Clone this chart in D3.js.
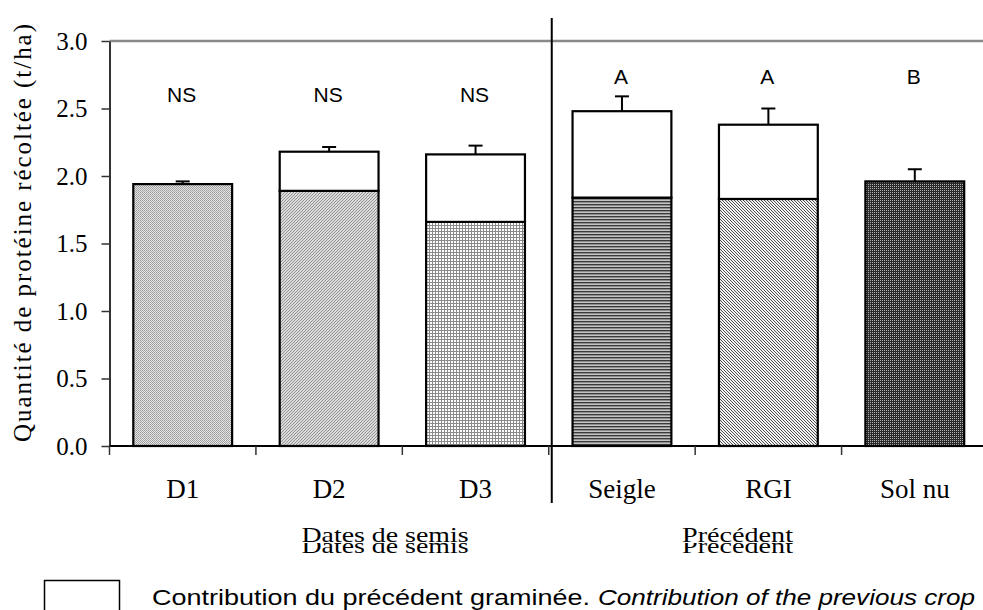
<!DOCTYPE html>
<html lang="fr">
<head>
<meta charset="UTF-8">
<title>Quantité de protéine récoltée</title>
<script src="https://cdn.jsdelivr.net/npm/d3@7"></script>
<style>
  body { margin: 0; background: #fff; }
  svg { display: block; }
</style>
</head>
<body>
<script>

    // data
    var categories = ["D1", "D2", "D3", "Seigle", "RGI", "Sol nu"];
    var baseValues = [1.94, 1.89, 1.66, 1.84, 1.83, 1.96];
    var contribValues = [0, 0.29, 0.50, 0.64, 0.55, 0];
    var errValues = [0.02, 0.035, 0.065, 0.11, 0.12, 0.09];
    var sigLetters = ["NS", "NS", "NS", "A", "A", "B"];
    var groupOf = [0, 0, 0, 1, 1, 1];
    var groupLabels = ["Dates de semis", "Précédent"];
    var yTicks = [0, 0.5, 1.0, 1.5, 2.0, 2.5, 3.0];
    var yTitle = "Quantité de protéine récoltée (t/ha)";
    var legendFr = "Contribution du précédent graminée.";
    var legendEn = "Contribution of the previous crop";

    var width = 983, height = 610;
    var serif = "'Liberation Serif', 'Times New Roman', serif";
    var sans = "'Liberation Sans', Arial, sans-serif";

    var svg = d3.select("body").append("svg")
        .attr("width", width)
        .attr("height", height);

    var x = d3.scaleBand()
        .domain(categories)
        .range([109.5, 988]);

    var y = d3.scaleLinear()
        .domain([0, 3])
        .range([446, 41]);

    var barW = x.bandwidth() * 0.675;
    function barX(c) { return x(c) + (x.bandwidth() - barW) / 2; }

    // fill patterns
    var defs = svg.append("defs");
    function pat(id, w, h) {
        return defs.append("pattern").attr("id", id)
            .attr("patternUnits", "userSpaceOnUse")
            .attr("width", w).attr("height", h);
    }
    var p;
    p = pat("p0", 2, 2);
    p.append("rect").attr("width", 2).attr("height", 2).attr("fill", "#e4e4e4");
    p.append("rect").attr("width", 1).attr("height", 1).attr("fill", "#9c9c9c");
    p.append("rect").attr("x", 1).attr("y", 1).attr("width", 1).attr("height", 1).attr("fill", "#a8a8a8");

    p = pat("p1", 3, 3);
    p.append("rect").attr("width", 3).attr("height", 3).attr("fill", "#dadada");
    p.append("path").attr("d", "M-1,1 L1,-1 M0,3 L3,0 M2,4 L4,2").attr("stroke", "#959595").attr("stroke-width", 1);

    p = pat("p2", 3, 3);
    p.append("rect").attr("width", 3).attr("height", 3).attr("fill", "#fff");
    p.append("rect").attr("width", 3).attr("height", 1).attr("fill", "#8a8a8a");
    p.append("rect").attr("width", 1).attr("height", 3).attr("fill", "#8a8a8a");

    p = pat("p3", 3, 3);
    p.append("rect").attr("width", 3).attr("height", 3).attr("fill", "#c4c4c4");
    p.append("rect").attr("width", 3).attr("height", 1.4).attr("fill", "#3a3a3a");

    p = pat("p4", 3, 3);
    p.append("rect").attr("width", 3).attr("height", 3).attr("fill", "#f4f4f4");
    p.append("path").attr("d", "M-1,2 L1,4 M0,0 L3,3 M2,-1 L4,1").attr("stroke", "#3c3c3c").attr("stroke-width", 0.9);

    p = pat("p5", 2, 2);
    p.append("rect").attr("width", 2).attr("height", 2).attr("fill", "#2a2a2a");
    p.append("rect").attr("width", 1).attr("height", 1).attr("fill", "#b4b4b4");

    // top border line
    svg.append("line")
        .attr("x1", x.range()[0]).attr("x2", width)
        .attr("y1", y(3)).attr("y2", y(3))
        .attr("stroke", "#8a8a8a").attr("stroke-width", 2.5);

    // y axis
    var yAxis = d3.axisLeft(y)
        .tickValues(yTicks)
        .tickFormat(d3.format(".1f"))
        .tickSize(8)
        .tickSizeOuter(0)
        .tickPadding(14);
    var yG = svg.append("g")
        .attr("transform", "translate(" + x.range()[0] + ",0)")
        .call(yAxis);
    yG.select(".domain").attr("stroke", "#333").attr("stroke-width", 2);
    yG.selectAll(".tick line").attr("stroke", "#333").attr("stroke-width", 1.5);
    yG.selectAll(".tick text")
        .attr("font-family", serif)
        .attr("font-size", 25)
        .attr("fill", "#000")
        .attr("dy", "0.32em");

    // y title
    svg.append("text")
        .attr("transform", "translate(31,233) rotate(-90)")
        .attr("text-anchor", "middle")
        .attr("font-family", serif)
        .attr("font-size", 25)
        .attr("textLength", 418)
        .attr("lengthAdjust", "spacing")
        .text(yTitle);

    // bars
    var bars = svg.append("g").selectAll("g")
        .data(categories)
        .join("g");

    bars.append("rect")
        .attr("x", function (d) { return barX(d); })
        .attr("y", function (d, i) { return y(baseValues[i]); })
        .attr("width", barW)
        .attr("height", function (d, i) { return y(0) - y(baseValues[i]); })
        .attr("fill", function (d, i) { return "url(#p" + i + ")"; })
        .attr("stroke", "#000")
        .attr("stroke-width", 2.2);

    bars.filter(function (d, i) { return contribValues[i] > 0; })
        .append("rect")
        .attr("x", function (d) { return barX(d); })
        .attr("y", function (d) { var i = categories.indexOf(d); return y(baseValues[i] + contribValues[i]); })
        .attr("width", barW)
        .attr("height", function (d) { var i = categories.indexOf(d); return y(baseValues[i]) - y(baseValues[i] + contribValues[i]); })
        .attr("fill", "#fff")
        .attr("stroke", "#000")
        .attr("stroke-width", 2.2);

    // error bars
    var err = svg.append("g").attr("stroke", "#000").attr("stroke-width", 2);
    categories.forEach(function (c, i) {
        var top = baseValues[i] + contribValues[i];
        var cx = x(c) + x.bandwidth() / 2;
        err.append("line")
            .attr("x1", cx).attr("x2", cx)
            .attr("y1", y(top)).attr("y2", y(top + errValues[i]));
        err.append("line")
            .attr("x1", cx - 7).attr("x2", cx + 7)
            .attr("y1", y(top + errValues[i])).attr("y2", y(top + errValues[i]));
    });

    // significance letters
    var letterY = [102, 84];
    svg.append("g").selectAll("text")
        .data(categories)
        .join("text")
        .attr("x", function (d) { return x(d) + x.bandwidth() / 2 - 1; })
        .attr("y", function (d, i) { return letterY[groupOf[i]]; })
        .attr("text-anchor", "middle")
        .attr("font-family", sans)
        .attr("font-size", 21)
        .text(function (d, i) { return sigLetters[i]; });

    // x axis
    var xAxis = d3.axisBottom(x).tickSize(0).tickSizeOuter(0);
    var xG = svg.append("g")
        .attr("transform", "translate(0," + y(0) + ")")
        .call(xAxis);
    xG.select(".domain").attr("d", "M" + x.range()[0] + ",0H" + width)
        .attr("stroke", "#000").attr("stroke-width", 2);
    xG.selectAll(".tick text")
        .attr("y", 52)
        .attr("dy", 0)
        .attr("font-family", serif)
        .attr("font-size", 27)
        .attr("fill", "#000");

    // category boundary ticks
    var bounds = categories.map(function (c) { return x(c); }).concat([x.range()[1]]);
    svg.append("g").selectAll("line")
        .data(bounds)
        .join("line")
        .attr("x1", function (d) { return d; }).attr("x2", function (d) { return d; })
        .attr("y1", y(0)).attr("y2", y(0) + 9)
        .attr("stroke", "#333").attr("stroke-width", 1.5);

    // separator between the two groups
    var sepX = x(categories[3]) + 3;
    svg.append("line")
        .attr("x1", sepX).attr("x2", sepX)
        .attr("y1", 18).attr("y2", 503)
        .attr("stroke", "#000").attr("stroke-width", 2);

    // group labels (second copy shown clipped below the first)
    var groupPos = [{cx: 385, len: 167}, {cx: 737.5, len: 111}];
    defs.append("clipPath").attr("id", "lowClip")
        .append("rect").attr("x", 0).attr("y", 543).attr("width", width).attr("height", 20);

    groupLabels.forEach(function (g, i) {
        [541.7, 553.3].forEach(function (by, k) {
            svg.append("text")
                .attr("x", groupPos[i].cx)
                .attr("y", by)
                .attr("text-anchor", "middle")
                .attr("font-family", serif)
                .attr("font-size", 21)
                .attr("textLength", groupPos[i].len)
                .attr("lengthAdjust", "spacingAndGlyphs")
                .attr("clip-path", k === 1 ? "url(#lowClip)" : null)
                .text(g);
        });
    });

    // legend
    svg.append("rect")
        .attr("x", 44.5).attr("y", 580.5)
        .attr("width", 75).attr("height", 40)
        .attr("fill", "#fff").attr("stroke", "#000").attr("stroke-width", 1.5);

    svg.append("text")
        .attr("x", 152).attr("y", 605)
        .attr("font-family", sans)
        .attr("font-size", 22)
        .attr("textLength", 438)
        .attr("lengthAdjust", "spacingAndGlyphs")
        .text(legendFr);

    svg.append("text")
        .attr("x", 598).attr("y", 605)
        .attr("font-family", sans)
        .attr("font-style", "italic")
        .attr("font-size", 22)
        .attr("textLength", 377)
        .attr("lengthAdjust", "spacingAndGlyphs")
        .text(legendEn);

</script>
</body>
</html>
